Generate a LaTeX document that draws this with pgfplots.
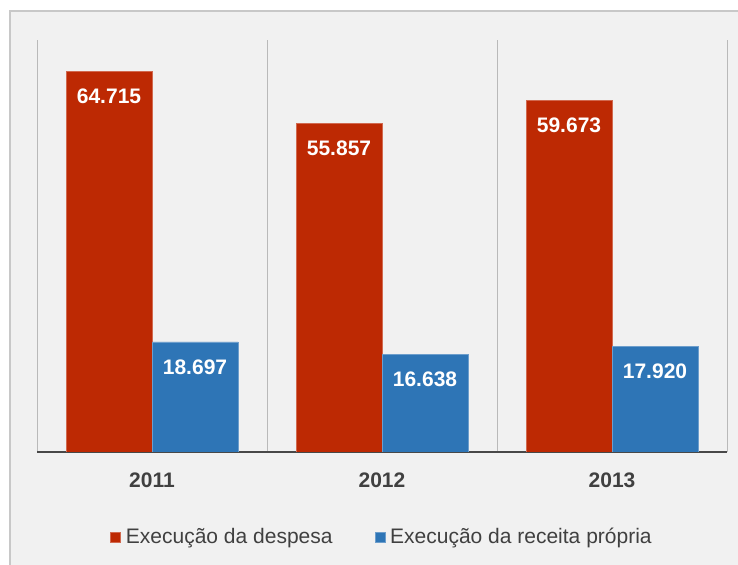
\documentclass[border=0pt]{standalone}
\usepackage{pgfplots}
\pgfplotsset{compat=1.18}
\usepackage{fontspec}
\setmainfont{Liberation Sans}
\definecolor{barred}{RGB}{189,41,3}
\definecolor{barblue}{RGB}{46,117,182}
\definecolor{bgc}{RGB}{241,241,241}
\definecolor{framec}{RGB}{200,200,200}
\definecolor{gridc}{RGB}{185,185,185}
\definecolor{txtc}{RGB}{64,64,64}
\definecolor{basec}{RGB}{72,72,72}
\begin{document}
\begin{tikzpicture}
\useasboundingbox (0,0) rectangle (738bp,565bp);
\fill[white] (0,0) rectangle (738bp,565bp);
\filldraw[fill=bgc, draw=framec, line width=1.5bp] (10bp,-20bp) rectangle (760bp,554bp);
\begin{axis}[
  at={(37bp,113bp)}, anchor=south west,
  scale only axis, width=690bp, height=412bp,
  xmin=-0.5, xmax=2.5, ymin=0, ymax=70,
  axis x line*=bottom, axis y line=none,
  x axis line style={line width=2.5bp, color=basec, -},
  xtick={0,1,2}, xticklabels={2011,2012,2013},
  major tick length=0pt,
  minor xtick={-0.5,0.5,1.5,2.5},
  minor x tick style={draw=none},
  xminorgrids=true,
  minor grid style={gridc, line width=1bp},
  ytick=\empty,
  xticklabel style={font=\fontsize{21bp}{25bp}\selectfont\bfseries, text=txtc, yshift=-17bp},
  /pgf/number format/assume math mode=true,
  ybar=0pt, bar width=86bp,
  nodes near coords,
  nodes near coords style={font=\fontsize{21bp}{25bp}\selectfont\bfseries, text=white, anchor=center, yshift=-25bp,
    /pgf/number format/.cd, fixed, fixed zerofill, precision=3, assume math mode=true},
  legend style={at={(0.5,-0.2063)}, anchor=center, draw=none, fill=none,
    legend columns=2, font=\fontsize{21bp}{25bp}\selectfont, text=txtc,
    /tikz/every even column/.append style={column sep=40bp},
    /tikz/every odd column/.append style={column sep=3bp}},
  legend image code/.code={\fill[#1] (0bp,-5bp) rectangle (10bp,5bp);},
]
\addplot[fill=barred, draw=barred!70!white, line width=0.6bp, bar shift=-43bp] coordinates {(0,64.715) (1,55.857) (2,59.673)};
\addplot[fill=barblue, draw=barblue!70!white, line width=0.6bp, bar shift=43bp] coordinates {(0,18.697) (1,16.638) (2,17.920)};
\legend{Execução da despesa, Execução da receita própria}
\end{axis}
\end{tikzpicture}
\end{document}
